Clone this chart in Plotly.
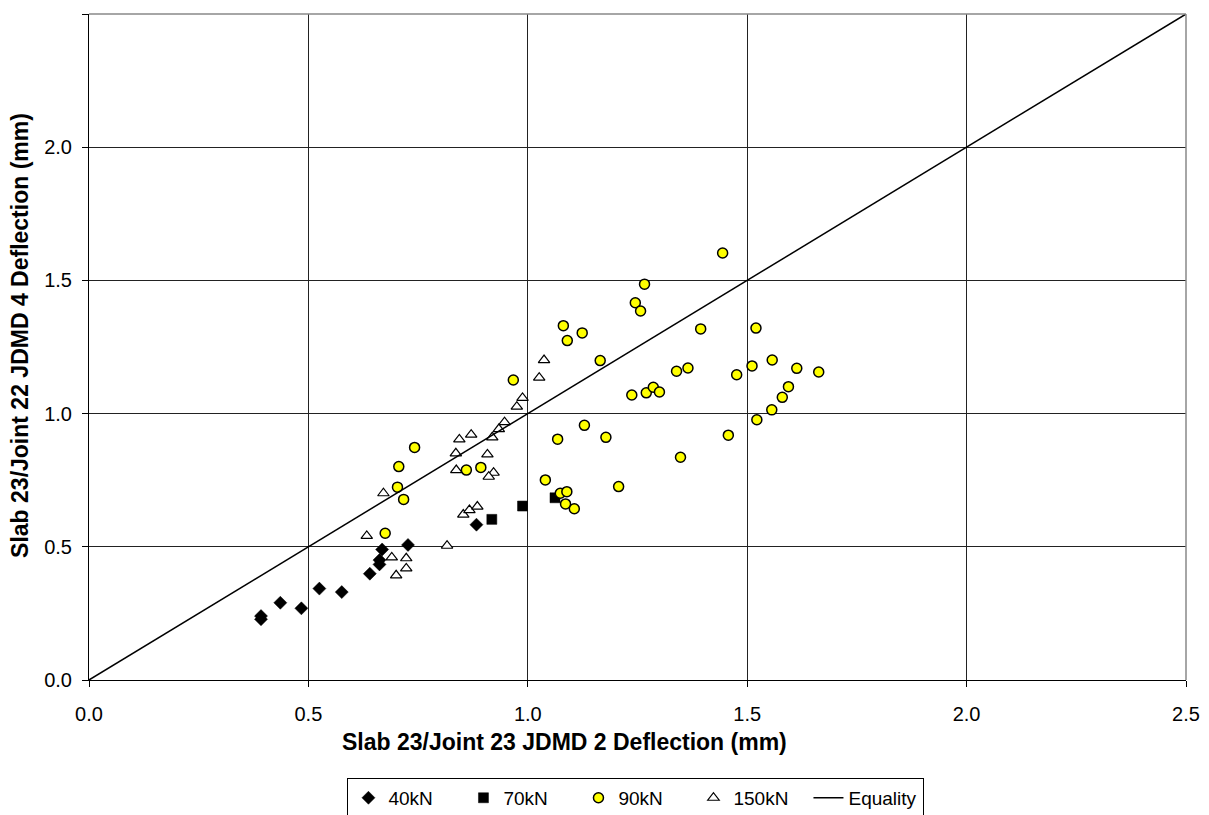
import plotly.graph_objects as go

# ---- data ----
f40_x = [0.392, 0.392, 0.436, 0.484, 0.525, 0.576, 0.640, 0.662, 0.662, 0.668, 0.727, 0.883]
f40_y = [0.240, 0.228, 0.290, 0.269, 0.343, 0.330, 0.399, 0.450, 0.434, 0.490, 0.507, 0.583]

f70_x = [0.918, 0.988, 1.062]
f70_y = [0.603, 0.653, 0.684]

f90_x = [1.245, 1.257, 1.081, 1.124, 1.090, 1.394, 1.520, 1.165, 1.557, 1.339, 1.365,
         1.476, 1.511, 1.613, 1.663, 1.237, 1.270, 1.286, 1.300, 1.594, 1.580, 1.556,
         1.522, 1.129, 1.068, 1.178, 1.457, 1.348, 1.040, 1.207, 1.074, 1.089, 1.086,
         1.106, 1.444, 1.266, 0.967, 0.860, 0.893, 0.742, 0.706, 0.703, 0.717, 0.675]
f90_y = [1.416, 1.385, 1.330, 1.303, 1.274, 1.318, 1.321, 1.199, 1.201, 1.159, 1.171,
         1.146, 1.179, 1.170, 1.156, 1.070, 1.078, 1.099, 1.081, 1.101, 1.061, 1.014,
         0.977, 0.956, 0.904, 0.911, 0.919, 0.836, 0.751, 0.726, 0.701, 0.707, 0.661,
         0.643, 1.603, 1.486, 1.126, 0.788, 0.798, 0.873, 0.801, 0.724, 0.678, 0.551]

f150_x = [0.633, 0.690, 0.723, 0.723, 0.700, 0.816, 0.853, 0.867, 0.885, 1.037, 1.026,
          0.988, 0.975, 0.947, 0.934, 0.919, 0.871, 0.844, 0.836, 0.908, 0.837, 0.922,
          0.911, 0.671]
f150_y = [0.541, 0.460, 0.457, 0.419, 0.393, 0.504, 0.621, 0.638, 0.651, 1.201, 1.135,
          1.059, 1.026, 0.968, 0.942, 0.911, 0.921, 0.903, 0.851, 0.847, 0.788, 0.778,
          0.763, 0.701]

eq_x = [0.0, 2.5]
eq_y = [0.0, 2.5]

tick_vals = [0.0, 0.5, 1.0, 1.5, 2.0, 2.5]
tick_text = ["0.0", "0.5", "1.0", "1.5", "2.0", "2.5"]

x_title = "Slab 23/Joint 23 JDMD 2 Deflection (mm)"
y_title = "Slab 23/Joint 22 JDMD 4 Deflection (mm)"

FONT = "Arial, Liberation Sans, sans-serif"

fig = go.Figure()
fig.add_trace(go.Scatter(x=f40_x, y=f40_y, mode="markers", name="40kN",
                         marker=dict(symbol="diamond", size=10, color="black",
                                     line=dict(color="black", width=0.5))))
fig.add_trace(go.Scatter(x=f70_x, y=f70_y, mode="markers", name="70kN",
                         marker=dict(symbol="square", size=10, color="black",
                                     line=dict(color="black", width=0.5))))
fig.add_trace(go.Scatter(x=f90_x, y=f90_y, mode="markers", name="90kN",
                         marker=dict(symbol="circle", size=10, color="#FFFF00",
                                     line=dict(color="black", width=1.5))))
fig.add_trace(go.Scatter(x=f150_x, y=f150_y, mode="markers", name="150kN",
                         marker=dict(symbol="triangle-up", size=10, color="white",
                                     line=dict(color="black", width=1.2))))
fig.add_trace(go.Scatter(x=eq_x, y=eq_y, mode="lines", name="Equality",
                         line=dict(color="black", width=1.5)))

axis_common = dict(
    range=[0, 2.5], tickvals=tick_vals, ticktext=tick_text,
    showgrid=True, gridcolor="#222222", gridwidth=1,
    showline=True, linecolor="black", linewidth=1, mirror=False,
    ticks="outside", ticklen=6, tickcolor="black",
    tickfont=dict(family=FONT, size=20, color="black"),
    zeroline=False,
)

fig.update_layout(
    width=1201, height=807,
    margin=dict(l=81, r=23, t=6, b=135, autoexpand=False),
    paper_bgcolor="white", plot_bgcolor="white",
    font=dict(family=FONT, color="black"),
    xaxis=dict(**axis_common, ticklabelstandoff=10),
    yaxis=dict(**axis_common, ticklabelstandoff=6),
    showlegend=True,
    legend=dict(orientation="h", x=0.4986, xanchor="center", y=-0.147, yanchor="top",
                bordercolor="black", borderwidth=1, bgcolor="white",
                font=dict(family=FONT, size=19, color="black"),
                itemwidth=30, tracegroupgap=0, entrywidth=70),
    annotations=[
        dict(text="<b>" + x_title + "</b>", xref="paper", yref="paper",
             x=0.433, y=-0.0931, xanchor="center", yanchor="middle", showarrow=False,
             font=dict(family=FONT, size=23, color="black")),
        dict(text="<b>" + y_title + "</b>", xref="paper", yref="paper",
             x=-0.063, y=0.518, xanchor="center", yanchor="middle", showarrow=False,
             textangle=-90, font=dict(family=FONT, size=23, color="black")),
    ],
    shapes=[
        dict(type="line", xref="paper", yref="paper", x0=0, x1=1, y0=1, y1=1,
             line=dict(color="#888888", width=1.5)),
        dict(type="line", xref="paper", yref="paper", x0=1, x1=1, y0=0, y1=1,
             line=dict(color="#888888", width=1.5)),
    ],
)

fig.write_html("out.html")
